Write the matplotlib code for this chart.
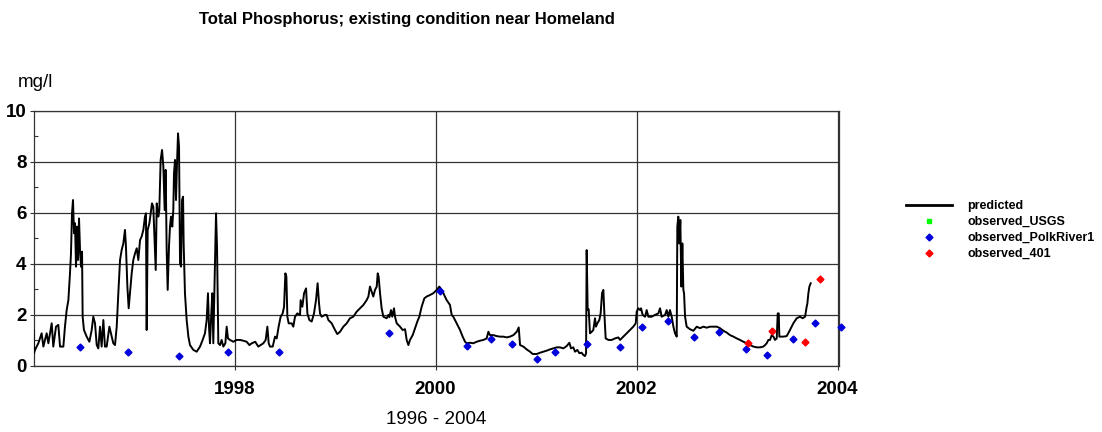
import matplotlib
matplotlib.use("Agg")
import matplotlib.pyplot as plt
from matplotlib.lines import Line2D
from matplotlib.ticker import MultipleLocator

plt.rcParams['font.family'] = ['Liberation Sans', 'DejaVu Sans']

# predicted total phosphorus (decimal year, mg/l)
pred_year = [
    1996.000, 1996.005, 1996.015, 1996.048, 1996.081, 1996.098, 1996.131, 1996.148, 1996.181, 1996.197,
    1996.224, 1996.247, 1996.264, 1996.297, 1996.313, 1996.330, 1996.347, 1996.363, 1996.373, 1996.383,
    1996.393, 1996.403, 1996.413, 1996.423, 1996.433, 1996.443, 1996.453, 1996.463, 1996.473, 1996.483,
    1996.489, 1996.502, 1996.529, 1996.556, 1996.579, 1996.595, 1996.612, 1996.629, 1996.645, 1996.662,
    1996.678, 1996.695, 1996.711, 1996.728, 1996.755, 1996.778, 1996.794, 1996.811, 1996.828, 1996.844,
    1996.861, 1996.877, 1996.894, 1996.910, 1996.920, 1996.934, 1996.947, 1996.960, 1996.977, 1996.993,
    1997.010, 1997.027, 1997.043, 1997.060, 1997.076, 1997.093, 1997.109, 1997.119, 1997.126, 1997.136,
    1997.153, 1997.166, 1997.179, 1997.192, 1997.202, 1997.216, 1997.226, 1997.242, 1997.252, 1997.265,
    1997.279, 1997.292, 1997.305, 1997.315, 1997.325, 1997.335, 1997.348, 1997.358, 1997.368, 1997.381,
    1997.391, 1997.398, 1997.408, 1997.418, 1997.428, 1997.438, 1997.448, 1997.458, 1997.468, 1997.478,
    1997.488, 1997.494, 1997.507, 1997.524, 1997.541, 1997.557, 1997.590, 1997.624, 1997.657, 1997.683,
    1997.706, 1997.723, 1997.736, 1997.746, 1997.756, 1997.766, 1997.779, 1997.789, 1997.806, 1997.816,
    1997.826, 1997.839, 1997.856, 1997.872, 1997.889, 1997.909, 1997.922, 1997.935, 1997.955, 1997.988,
    1998.022, 1998.055, 1998.088, 1998.121, 1998.148, 1998.172, 1998.206, 1998.237, 1998.260, 1998.287,
    1998.310, 1998.327, 1998.340, 1998.353, 1998.380, 1998.403, 1998.420, 1998.439, 1998.459, 1998.479,
    1998.493, 1998.506, 1998.516, 1998.526, 1998.539, 1998.569, 1998.585, 1998.602, 1998.625, 1998.652,
    1998.658, 1998.675, 1998.692, 1998.712, 1998.725, 1998.745, 1998.768, 1998.791, 1998.811, 1998.827,
    1998.841, 1998.851, 1998.867, 1998.900, 1998.917, 1998.934, 1998.967, 1999.000, 1999.023, 1999.050,
    1999.083, 1999.116, 1999.149, 1999.182, 1999.216, 1999.249, 1999.282, 1999.315, 1999.332, 1999.348,
    1999.365, 1999.381, 1999.398, 1999.415, 1999.425, 1999.434, 1999.448, 1999.464, 1999.481, 1999.514,
    1999.531, 1999.541, 1999.557, 1999.570, 1999.587, 1999.597, 1999.614, 1999.647, 1999.673, 1999.697,
    1999.713, 1999.730, 1999.746, 1999.773, 1999.796, 1999.819, 1999.839, 1999.862, 1999.889, 1999.912,
    1999.945, 1999.978, 2000.012, 2000.038, 2000.061, 2000.078, 2000.111, 2000.144, 2000.161, 2000.177,
    2000.211, 2000.244, 2000.270, 2000.294, 2000.310, 2000.343, 2000.376, 2000.410, 2000.443, 2000.476,
    2000.509, 2000.526, 2000.542, 2000.575, 2000.609, 2000.642, 2000.675, 2000.708, 2000.741, 2000.775,
    2000.808, 2000.828, 2000.841, 2000.874, 2000.907, 2000.940, 2000.967, 2001.007, 2001.040, 2001.073,
    2001.106, 2001.139, 2001.172, 2001.206, 2001.239, 2001.272, 2001.305, 2001.332, 2001.348, 2001.371,
    2001.388, 2001.411, 2001.431, 2001.454, 2001.471, 2001.488, 2001.498, 2001.504, 2001.514, 2001.524,
    2001.537, 2001.554, 2001.570, 2001.587, 2001.597, 2001.610, 2001.630, 2001.643, 2001.657, 2001.670,
    2001.680, 2001.693, 2001.720, 2001.753, 2001.786, 2001.819, 2001.836, 2001.869, 2001.902, 2001.935,
    2001.968, 2001.992, 2002.002, 2002.018, 2002.035, 2002.045, 2002.061, 2002.085, 2002.101, 2002.118,
    2002.151, 2002.184, 2002.217, 2002.234, 2002.250, 2002.284, 2002.300, 2002.317, 2002.333, 2002.350,
    2002.367, 2002.383, 2002.400, 2002.406, 2002.416, 2002.426, 2002.436, 2002.446, 2002.456, 2002.466,
    2002.473, 2002.483, 2002.499, 2002.532, 2002.566, 2002.599, 2002.632, 2002.665, 2002.698, 2002.731,
    2002.765, 2002.798, 2002.831, 2002.864, 2002.897, 2002.930, 2002.964, 2002.997, 2003.030, 2003.063,
    2003.096, 2003.129, 2003.163, 2003.196, 2003.229, 2003.262, 2003.279, 2003.295, 2003.312, 2003.328,
    2003.345, 2003.362, 2003.378, 2003.395, 2003.405, 2003.415, 2003.421, 2003.444, 2003.461, 2003.494,
    2003.527, 2003.560, 2003.594, 2003.627, 2003.653, 2003.677, 2003.693, 2003.700, 2003.710, 2003.720,
    2003.733,
]
pred_mgl = [
    1.40, 0.50, 0.63, 0.89, 1.28, 0.76, 1.28, 0.89, 1.67, 0.76,
    1.54, 1.61, 0.76, 0.76, 1.54, 2.19, 2.58, 3.63, 4.41, 5.98,
    6.50, 5.20, 5.59, 3.89, 5.46, 4.15, 5.78, 4.54, 3.89, 4.48,
    1.93, 1.41, 1.15, 0.95, 1.41, 1.93, 1.67, 0.82, 0.69, 1.54,
    0.76, 1.80, 0.76, 0.76, 1.54, 1.15, 0.89, 0.82, 1.54, 2.85,
    4.15, 4.54, 4.80, 5.33, 4.67, 3.11, 2.26, 2.85, 3.63, 4.15,
    4.41, 4.61, 4.15, 4.93, 5.07, 5.33, 5.85, 5.98, 1.41, 5.33,
    5.59, 5.98, 6.37, 6.24, 5.20, 3.76, 6.37, 5.85, 6.11, 8.07,
    8.46, 7.81, 6.11, 7.68, 4.54, 2.98, 4.67, 5.46, 5.85, 5.46,
    6.11, 7.55, 8.07, 6.50, 7.94, 9.11, 8.59, 4.02, 3.89, 6.50,
    6.63, 4.80, 2.85, 1.80, 1.15, 0.82, 0.63, 0.56, 0.76, 1.02,
    1.28, 1.80, 2.85, 1.54, 0.89, 1.80, 2.85, 0.89, 4.15, 5.98,
    4.67, 0.89, 0.82, 1.02, 0.76, 0.89, 1.54, 1.08, 1.02, 0.95,
    1.02, 1.02, 0.99, 0.95, 0.82, 0.89, 0.95, 0.76, 0.82, 0.89,
    1.02, 1.54, 0.89, 0.76, 0.76, 1.15, 1.08, 1.54, 1.93, 2.06,
    2.32, 3.63, 3.50, 1.93, 1.67, 1.67, 1.54, 1.93, 2.06, 2.00,
    2.58, 2.32, 2.85, 3.04, 2.06, 1.80, 1.74, 2.06, 2.58, 3.24,
    2.45, 2.06, 1.93, 2.00, 2.00, 1.80, 1.67, 1.41, 1.25, 1.34,
    1.54, 1.67, 1.87, 1.93, 2.13, 2.26, 2.39, 2.58, 2.72, 3.11,
    2.91, 2.72, 2.98, 3.11, 3.63, 3.50, 2.85, 2.26, 1.93, 1.87,
    2.00, 1.91, 2.19, 1.93, 2.26, 1.93, 1.67, 1.54, 1.41, 1.44,
    1.02, 0.82, 1.02, 1.21, 1.48, 1.74, 1.93, 2.32, 2.65, 2.72,
    2.78, 2.85, 2.98, 3.11, 2.98, 2.85, 2.58, 2.39, 2.00, 1.93,
    1.67, 1.41, 1.15, 0.95, 0.89, 0.91, 0.89, 0.95, 0.99, 1.02,
    1.08, 1.34, 1.21, 1.21, 1.17, 1.15, 1.15, 1.12, 1.15, 1.21,
    1.34, 1.51, 0.82, 0.76, 0.65, 0.56, 0.47, 0.47, 0.52, 0.56,
    0.60, 0.65, 0.69, 0.73, 0.73, 0.69, 0.78, 0.91, 0.69, 0.73,
    0.56, 0.63, 0.50, 0.52, 0.43, 0.39, 0.50, 4.54, 2.19, 2.22,
    1.28, 1.34, 1.41, 1.87, 1.54, 1.67, 1.80, 2.06, 2.85, 2.98,
    2.06, 1.08, 1.02, 1.02, 1.08, 1.12, 1.02, 1.15, 1.28, 1.41,
    1.54, 1.67, 2.13, 2.26, 2.19, 2.26, 2.00, 1.93, 2.19, 1.93,
    1.93, 2.00, 2.06, 2.26, 1.93, 2.00, 2.19, 1.93, 2.19, 1.93,
    1.54, 1.28, 1.15, 5.46, 5.85, 4.80, 5.72, 3.11, 4.80, 2.98,
    2.85, 1.93, 1.54, 1.44, 1.38, 1.54, 1.48, 1.54, 1.50, 1.54,
    1.54, 1.54, 1.48, 1.38, 1.31, 1.21, 1.15, 1.08, 1.02, 0.95,
    0.89, 0.82, 0.76, 0.73, 0.73, 0.76, 0.82, 0.89, 1.02, 1.02,
    1.21, 1.15, 1.02, 1.08, 2.06, 2.06, 1.15, 1.15, 1.15, 1.17,
    1.41, 1.67, 1.87, 1.93, 1.87, 1.93, 2.32, 2.45, 2.85, 3.11,
    3.24,
]

# observed samples
usgs_year = []
usgs_mgl = []
polk_year = [1996.46, 1996.94, 1997.45, 1997.94, 1998.44, 1999.54, 2000.04, 2000.31, 2000.55,
             2000.76, 2001.01, 2001.19, 2001.51, 2001.84, 2002.05, 2002.31, 2002.57, 2002.82,
             2003.09, 2003.30, 2003.56, 2003.78, 2004.03]
polk_mgl = [0.73, 0.56, 0.39, 0.56, 0.56, 1.28, 2.94, 0.80, 1.07,
            0.87, 0.26, 0.54, 0.87, 0.76, 1.54, 1.75, 1.14, 1.32,
            0.68, 0.42, 1.06, 1.70, 1.52]
r401_year = [2003.11, 2003.35, 2003.68, 2003.83]
r401_mgl = [0.90, 1.38, 0.93, 3.40]

x_ticks = [1998, 2000, 2002, 2004]
y_ticks = [0, 2, 4, 6, 8, 10]

fig = plt.figure(figsize=(11.02, 4.32), dpi=100)
ax = fig.add_axes([0.0304, 0.1528, 0.7307, 0.591])

ax.plot(pred_year, pred_mgl, color='black', lw=1.4, zorder=3)
ax.plot(usgs_year, usgs_mgl, ls='none', marker='s', ms=3.5, color='#00ff00', zorder=4)
ax.plot(polk_year, polk_mgl, ls='none', marker='D', ms=3.5, color='#0000dd', zorder=4, clip_on=False)
ax.plot(r401_year, r401_mgl, ls='none', marker='D', ms=3.5, color='#ff0000', zorder=4, clip_on=False)

ax.set_xlim(1996, 2004.012)
ax.set_ylim(0, 10)
ax.set_xticks(x_ticks)
ax.set_xticklabels([str(t) for t in x_ticks], fontsize=13.5, fontweight='bold')
ax.set_yticks(y_ticks)
ax.set_yticklabels([str(t) for t in y_ticks], fontsize=13.5, fontweight='bold')
ax.yaxis.set_minor_locator(MultipleLocator(1))
ax.tick_params(axis='both', which='major', length=3, width=0.8, color='#333333', pad=2)
ax.tick_params(axis='y', which='minor', direction='in', length=3, width=0.8, color='#333333')
ax.tick_params(axis='x', pad=8)
ax.grid(True, which='major', color='#333333', lw=0.9)
for s in ax.spines.values():
    s.set_color('#333333')
    s.set_linewidth(0.9)

ax.set_xlabel('1996 - 2004', fontsize=13.5, labelpad=9)
fig.text(0.0163, 0.81, 'mg/l', fontsize=13.5, ha='left', va='center')
fig.text(0.369, 0.955, 'Total Phosphorus; existing condition near Homeland',
         fontsize=12, fontweight='bold', ha='center', va='center')

handles = [
    Line2D([], [], color='black', lw=2),
    Line2D([], [], ls='none', marker='s', ms=3.5, color='#00ff00'),
    Line2D([], [], ls='none', marker='D', ms=3.5, color='#0000dd'),
    Line2D([], [], ls='none', marker='D', ms=3.5, color='#ff0000'),
]
labels = ['predicted', 'observed_USGS', 'observed_PolkRiver1', 'observed_401']
fig.legend(handles, labels, loc='upper left', bbox_to_anchor=(0.822, 0.537),
           frameon=False, borderpad=0, borderaxespad=0, handlelength=3.7,
           handletextpad=1.2, labelspacing=0.32, prop={'weight': 'bold', 'size': 9})

fig.savefig('out.png', dpi=100)
